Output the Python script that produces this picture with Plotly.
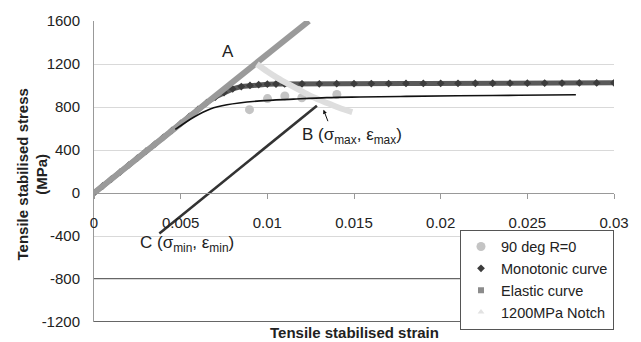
import plotly.graph_objects as go

# ---- data -------------------------------------------------------------
# 90 deg R=0 test points
test_strain = [0.00897, 0.01001, 0.01101, 0.01199, 0.01401]
test_stress = [775, 878, 903, 886, 916]

# Monotonic curve
mono_strain = [0.0, 0.0005, 0.001, 0.0015, 0.002, 0.0025, 0.003, 0.0035, 0.004,
               0.0045, 0.005, 0.0055, 0.006, 0.0065, 0.007, 0.0075, 0.008,
               0.0085, 0.009, 0.0095, 0.010, 0.0105, 0.011, 0.012, 0.013,
               0.014, 0.015, 0.016, 0.017, 0.018, 0.019, 0.020, 0.021, 0.022,
               0.023, 0.024, 0.025, 0.026, 0.027, 0.028, 0.029, 0.030]
mono_stress = [0, 65, 130, 194, 259, 324, 389, 453, 518,
               583, 647, 712, 777, 840, 892, 935, 968,
               990, 1001, 1008, 1012, 1014, 1015, 1016, 1016,
               1017, 1017, 1018, 1018, 1019, 1019, 1020, 1020, 1021,
               1021, 1022, 1022, 1023, 1023, 1024, 1024, 1025]

# Elastic curve
elastic_strain = [0.0, 0.002, 0.004, 0.006, 0.008, 0.010, 0.0124]
elastic_stress = [0, 259, 518, 777, 1036, 1295, 1600]

# 1200MPa Notch
notch_strain = [0.0094, 0.0100, 0.0106, 0.0113, 0.0120, 0.0127, 0.0134, 0.0141, 0.0149]
notch_stress = [1200, 1130, 1068, 1005, 945, 888, 840, 795, 752]

# Stabilised cyclic curve
cyc_strain = [0.00469, 0.00575, 0.00671, 0.00767, 0.00959, 0.01151, 0.01343,
              0.01535, 0.0180, 0.0210, 0.0245, 0.0278]
cyc_stress = [591, 705, 782, 821, 857, 873, 887, 893, 899, 904, 909, 914]

# Elastic unloading line between C and B
unload_strain = [0.00377, 0.01286]
unload_stress = [-376, 812]

# Axis ticks
x_ticks = [0, 0.005, 0.01, 0.015, 0.02, 0.025, 0.03]
x_labels = ["0", "0.005", "0.01", "0.015", "0.02", "0.025", "0.03"]
y_ticks = [-1200, -800, -400, 0, 400, 800, 1200, 1600]
y_labels = ["-1200", "-800", "-400", "0", "400", "800", "1200", "1600"]

FONT = "Liberation Sans, Arial, sans-serif"

fig = go.Figure()

# Monotonic curve: continuous band plus diamond markers
fig.add_trace(go.Scatter(x=mono_strain, y=mono_stress, mode="lines",
                         line=dict(color="#5a5a5a", width=5),
                         showlegend=False, hoverinfo="skip"))
fig.add_trace(go.Scatter(x=mono_strain, y=mono_stress, mode="markers",
                         name="Monotonic curve", legendrank=2,
                         marker=dict(symbol="diamond", size=6, color="#3c3c3c")))

# Elastic curve
fig.add_trace(go.Scatter(x=elastic_strain, y=elastic_stress, mode="lines",
                         line=dict(color="#9a9a9a", width=6),
                         showlegend=False, hoverinfo="skip"))

# Test points
fig.add_trace(go.Scatter(x=test_strain, y=test_stress, mode="markers",
                         name="90 deg R=0", legendrank=1,
                         marker=dict(symbol="circle", size=9, color="#c4c4c4")))

# legend entry for the elastic curve
fig.add_trace(go.Scatter(x=[None], y=[None], mode="markers", name="Elastic curve",
                         legendrank=3,
                         marker=dict(symbol="square", size=6, color="#8c8c8c")))

# 1200MPa Notch
fig.add_trace(go.Scatter(x=notch_strain, y=notch_stress, mode="lines",
                         line=dict(color="#dedede", width=6, shape="spline"),
                         showlegend=False, hoverinfo="skip"))
fig.add_trace(go.Scatter(x=[None], y=[None], mode="markers", name="1200MPa Notch",
                         legendrank=4,
                         marker=dict(symbol="triangle-up", size=6, color="#e2e2e2")))

# Cyclic curve and unloading line
fig.add_trace(go.Scatter(x=cyc_strain, y=cyc_stress, mode="lines",
                         line=dict(color="#111111", width=1.6, shape="spline"),
                         showlegend=False, hoverinfo="skip"))
fig.add_trace(go.Scatter(x=unload_strain, y=unload_stress, mode="lines",
                         line=dict(color="#333333", width=2.6),
                         showlegend=False, hoverinfo="skip"))

# dark horizontal rules at -800 and at the bottom of the plot
for yv in (-800, -1200):
    fig.add_shape(type="line", xref="paper", x0=0, x1=1, yref="y", y0=yv, y1=yv,
                  line=dict(color="#333333", width=1.3), layer="below")

ann_font = dict(family=FONT, size=17, color="#222222")
fig.add_annotation(x=0.00773, y=1318, text="A", showarrow=False, font=ann_font)
fig.add_annotation(x=0.01189, y=530, xanchor="left",
                   text="B (σ<sub>max</sub>, ε<sub>max</sub>)",
                   showarrow=False, font=ann_font)
fig.add_annotation(x=0.00256, y=-479, xanchor="left",
                   text="C (σ<sub>min</sub>, ε<sub>min</sub>)",
                   showarrow=False, font=ann_font)
# arrow pointing to B
fig.add_annotation(x=0.01324, y=775, text="", showarrow=True, ax=5, ay=13,
                   arrowhead=2, arrowsize=0.8, arrowwidth=1, arrowcolor="#111111")

# axis titles
title_font = dict(family=FONT, size=15, color="#222222")
fig.add_annotation(xref="paper", yref="paper", x=-0.118, y=0.489,
                   xanchor="center", yanchor="middle",
                   text="<b>Tensile stabilised stress<br>(MPa)</b>", textangle=-90,
                   showarrow=False, font=title_font)
fig.add_annotation(xref="paper", yref="paper", x=0.5, y=-0.036,
                   xanchor="center", yanchor="middle",
                   text="<b>Tensile stabilised strain</b>",
                   showarrow=False, font=title_font)

tick_font = dict(family=FONT, size=15, color="#222222")
fig.update_layout(
    width=641, height=342,
    margin=dict(l=93.5, r=27, t=18, b=15),
    paper_bgcolor="white", plot_bgcolor="white",
    showlegend=True,
    legend=dict(x=1.0, xanchor="right", y=0.307, yanchor="top",
                bgcolor="white", bordercolor="#555555", borderwidth=1,
                font=dict(family=FONT, size=14.5, color="#222222"),
                itemwidth=30, tracegroupgap=0),
    xaxis=dict(range=[0, 0.03], tickvals=x_ticks, ticktext=x_labels,
               anchor="free", position=0.4294,
               showline=True, linecolor="#999999", linewidth=1,
               ticks="outside", ticklen=5, tickcolor="#999999",
               ticklabelstandoff=11,
               showgrid=False, zeroline=False, tickfont=tick_font),
    yaxis=dict(range=[-1200, 1600], tickvals=y_ticks, ticktext=y_labels,
               showline=True, linecolor="#999999", linewidth=1,
               ticks="", ticklabelstandoff=10,
               showgrid=True, gridcolor="#d9d9d9", gridwidth=1,
               zeroline=False, tickfont=tick_font),
)

fig.write_html("out.html")
